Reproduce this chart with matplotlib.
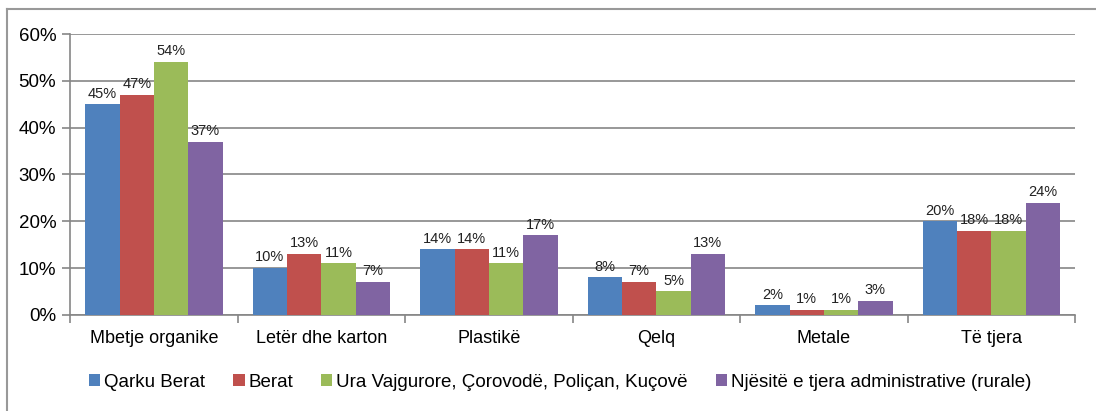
import matplotlib.pyplot as plt
import numpy as np
from matplotlib.lines import Line2D

plt.rcParams['font.family'] = ['Liberation Sans', 'DejaVu Sans']

categories = ['Mbetje organike', 'Letër dhe karton', 'Plastikë', 'Qelq', 'Metale', 'Të tjera']
series = ['Qarku Berat', 'Berat', 'Ura Vajgurore, Çorovodë, Poliçan, Kuçovë',
          'Njësitë e tjera administrative (rurale)']
qarku_berat = [45, 10, 14, 8, 2, 20]
berat = [47, 13, 14, 7, 1, 18]
ura_vajgurore = [54, 11, 11, 5, 1, 18]
rurale = [37, 7, 17, 13, 3, 24]
colors = ['#4F81BD', '#C0504D', '#9BBB59', '#8064A2']

values = [qarku_berat, berat, ura_vajgurore, rurale]

fig = plt.figure(figsize=(10.96, 4.11), dpi=100)
ax = fig.add_axes([0.064, 0.234, 0.917, 0.683])

x = np.arange(len(categories))
w = 0.205
for i, (name, vals, c) in enumerate(zip(series, values, colors)):
    pos = x + (i - 1.5) * w
    bars = ax.bar(pos, vals, width=w, color=c, label=name, zorder=3)
    for b, v in zip(bars, vals):
        ax.text(b.get_x() + b.get_width() / 2, v + 0.8, f'{v}%',
                ha='center', va='bottom', fontsize=10.5, color='#222222')

ax.set_xlim(-0.5, len(categories) - 0.5)
ax.set_ylim(0, 60)
ax.set_yticks(range(0, 61, 10))
ax.set_yticklabels([f'{t}%' for t in range(0, 61, 10)], fontsize=13.5)
ax.yaxis.grid(True, color='#868686', linewidth=1.2, zorder=0)
ax.set_xticks(x)
ax.set_xticklabels(categories, fontsize=13)
ax.tick_params(axis='x', length=0, pad=11)
ax.set_xticks(np.arange(-0.5, len(categories), 1), minor=True)
ax.tick_params(axis='x', which='minor', length=6, color='#868686', width=1.2)
ax.tick_params(axis='y', length=6, color='#868686', width=1.2, pad=4)
for s in ['top', 'right']:
    ax.spines[s].set_visible(False)
for s in ['left', 'bottom']:
    ax.spines[s].set_color('#868686')
    ax.spines[s].set_linewidth(1.2)

ax.legend(loc='center', bbox_to_anchor=(0.4876, -0.24), ncol=4, frameon=False,
          fontsize=13.5, handlelength=0.6, handleheight=0.6, handletextpad=0.2,
          columnspacing=1.5, borderaxespad=0)

# outer chart border
fig.add_artist(Line2D([7 / 1096, 7 / 1096], [0, 1 - 9 / 411], color='#999999', lw=1.5,
                      transform=fig.transFigure))
fig.add_artist(Line2D([7 / 1096, 1], [1 - 9 / 411, 1 - 9 / 411], color='#999999', lw=1.5,
                      transform=fig.transFigure))

fig.savefig('out.png', dpi=100)
